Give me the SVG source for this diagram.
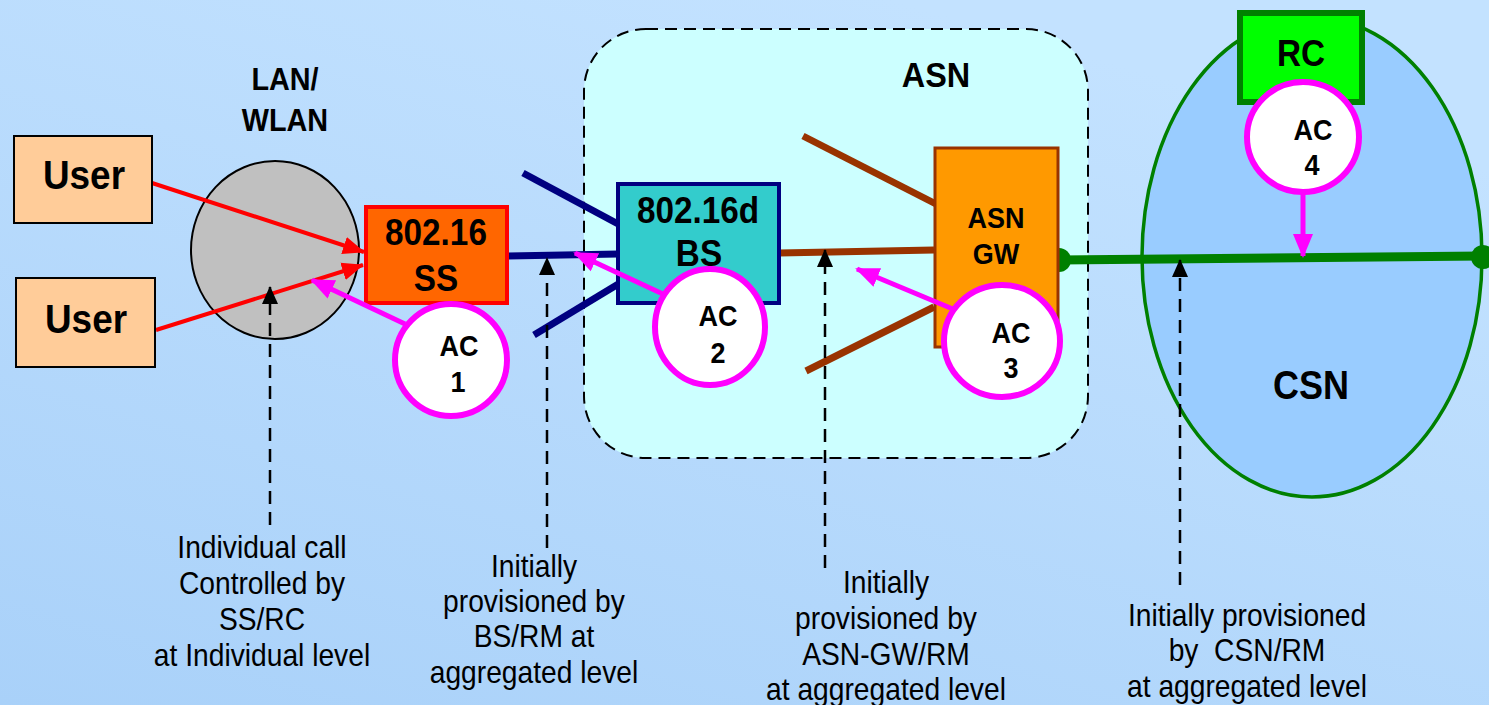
<svg xmlns="http://www.w3.org/2000/svg" width="1489" height="705" viewBox="0 0 1489 705">
<style>
.b{font-family:"Liberation Sans",Arial,sans-serif;font-weight:bold;fill:#000;text-anchor:middle}
.n{font-family:"Liberation Sans",Arial,sans-serif;font-size:31px;fill:#000;text-anchor:middle;white-space:pre}
.ac{fill:#fff;stroke:#ff00ff;stroke-width:6}
.mag{stroke:#ff00ff;stroke-width:5;fill:none;marker-end:url(#mh)}
.red{stroke:#ff0000;stroke-width:4;fill:none;marker-end:url(#rh)}
.dash{stroke:#000;stroke-width:2.5;stroke-dasharray:13 8;fill:none;marker-end:url(#kh)}
</style>
<defs>
<linearGradient id="bg" x1="0" y1="1" x2="0.6" y2="0">
<stop offset="0" stop-color="#a9d1f9"/>
<stop offset="1" stop-color="#c3e2ff"/>
</linearGradient>
<marker id="mh" markerUnits="userSpaceOnUse" markerWidth="24" markerHeight="24" viewBox="0 0 24 24" refX="22" refY="12" orient="auto"><path d="M0,2 L24,12 L0,22 Z" fill="#ff00ff"/></marker>
<marker id="rh" markerUnits="userSpaceOnUse" markerWidth="22" markerHeight="20" viewBox="0 0 22 20" refX="21" refY="10" orient="auto"><path d="M0,1 L22,10 L0,19 Z" fill="#ff0000"/></marker>
<marker id="kh" markerUnits="userSpaceOnUse" markerWidth="18" markerHeight="16" viewBox="0 0 18 16" refX="17" refY="8" orient="auto"><path d="M0,0 L18,8 L0,16 Z" fill="#000"/></marker>
</defs>
<rect width="1489" height="705" fill="url(#bg)"/>

<g id="asn">
<rect x="584" y="29" width="504" height="429" rx="62" fill="#ccffff" stroke="#000" stroke-width="2" stroke-dasharray="12 7"/>
<g transform="scale(0.9 1)"><text class="b" x="1040" y="87" font-size="36">ASN</text></g>
</g>
<g id="lan">
<ellipse cx="275" cy="250" rx="84" ry="89" fill="#c0c0c0" stroke="#000" stroke-width="2"/>
<g transform="scale(0.9 1)">
<text class="b" x="316.67" y="90" font-size="32">LAN/</text>
<text class="b" x="316.67" y="131" font-size="32">WLAN</text>
</g>
</g>
<g id="csn">
<ellipse cx="1312" cy="257" rx="170" ry="240" fill="#99ccff" stroke="#008000" stroke-width="3.5"/>
<g transform="scale(0.9 1)"><text class="b" x="1456.67" y="399" font-size="40">CSN</text></g>
</g>

<g id="connectors">
<line x1="508" y1="256" x2="618" y2="254" stroke="#000080" stroke-width="7"/>
<line x1="523" y1="173" x2="620" y2="225" stroke="#000080" stroke-width="7"/>
<line x1="534" y1="335" x2="620" y2="283" stroke="#000080" stroke-width="7"/>
<line x1="779" y1="253" x2="934" y2="250" stroke="#993300" stroke-width="7"/>
<line x1="803" y1="136" x2="936" y2="204" stroke="#993300" stroke-width="7"/>
<line x1="806" y1="371" x2="934" y2="307" stroke="#993300" stroke-width="7"/>
<line x1="1059" y1="260" x2="1483" y2="256" stroke="#008000" stroke-width="9"/>
<circle cx="1059" cy="260" r="12" fill="#008000"/>
<circle cx="1483" cy="257" r="12" fill="#008000"/>
<line class="red" x1="152" y1="183" x2="364" y2="252"/>
<line class="red" x1="156" y1="330" x2="363" y2="265"/>
<line class="dash" x1="270" y1="525" x2="270" y2="287"/>
<line class="dash" x1="547" y1="548" x2="547" y2="258"/>
<line class="dash" x1="825" y1="568" x2="825" y2="250"/>
<line class="dash" x1="1180" y1="585" x2="1180" y2="260"/>
</g>

<g id="user1">
<rect x="14" y="136" width="138" height="87" fill="#ffcc99" stroke="#000" stroke-width="2"/>
<g transform="scale(0.9 1)"><text class="b" x="93.33" y="189" font-size="41">User</text></g>
</g>
<g id="user2">
<rect x="16" y="278" width="139" height="89" fill="#ffcc99" stroke="#000" stroke-width="2"/>
<g transform="scale(0.9 1)"><text class="b" x="95.56" y="333" font-size="41">User</text></g>
</g>
<g id="ss">
<rect x="366" y="207" width="141" height="96" fill="#ff6600" stroke="#ff0000" stroke-width="4"/>
<g transform="scale(0.9 1)">
<text class="b" x="484.44" y="245" font-size="37">802.16</text>
<text class="b" x="484.44" y="291" font-size="37">SS</text>
</g>
</g>
<g id="bs">
<rect x="618" y="184" width="161" height="119" fill="#33cccc" stroke="#000080" stroke-width="4"/>
<g transform="scale(0.9 1)">
<text class="b" x="775.56" y="223" font-size="37">802.16d</text>
<text class="b" x="776.67" y="266" font-size="37">BS</text>
</g>
</g>
<g id="gw">
<rect x="935" y="148" width="123" height="199" fill="#ff9900" stroke="#993300" stroke-width="3"/>
<g transform="scale(0.9 1)">
<text class="b" x="1106.67" y="228" font-size="30">ASN</text>
<text class="b" x="1106.67" y="264" font-size="30">GW</text>
</g>
</g>
<g id="rc">
<rect x="1240" y="13" width="122" height="89" fill="#00ff00" stroke="#008000" stroke-width="6"/>
<g transform="scale(0.9 1)"><text class="b" x="1445.56" y="66" font-size="37">RC</text></g>
</g>

<g id="ac-arrows">
<line class="mag" x1="405" y1="324" x2="312" y2="280"/>
<line class="mag" x1="665" y1="295" x2="575" y2="253"/>
<line class="mag" x1="960" y1="312" x2="857" y2="269"/>
<line class="mag" x1="1303" y1="190" x2="1303" y2="256"/>
</g>
<g id="ac1">
<ellipse class="ac" cx="451" cy="360" rx="56" ry="56"/>
<g transform="scale(0.9 1)">
<text class="b" x="510" y="356" font-size="30">AC</text>
<text class="b" x="508.89" y="392" font-size="30">1</text>
</g>
</g>
<g id="ac2">
<ellipse class="ac" cx="710" cy="327" rx="55" ry="58"/>
<g transform="scale(0.9 1)">
<text class="b" x="797.78" y="326" font-size="30">AC</text>
<text class="b" x="797.78" y="363" font-size="30">2</text>
</g>
</g>
<g id="ac3">
<ellipse class="ac" cx="1002" cy="341" rx="58" ry="56"/>
<g transform="scale(0.9 1)">
<text class="b" x="1123.33" y="343" font-size="30">AC</text>
<text class="b" x="1123.33" y="378" font-size="30">3</text>
</g>
</g>
<g id="ac4">
<ellipse class="ac" cx="1303" cy="137" rx="56" ry="55"/>
<g transform="scale(0.9 1)">
<text class="b" x="1458.89" y="140" font-size="30">AC</text>
<text class="b" x="1457.78" y="175" font-size="30">4</text>
</g>
</g>

<g id="notes" transform="scale(0.91 1)">
<text class="n" x="287.91" y="558">Individual call</text>
<text class="n" x="287.91" y="594">Controlled by</text>
<text class="n" x="287.91" y="630">SS/RC</text>
<text class="n" x="287.91" y="666">at Individual level</text>
<text class="n" x="586.81" y="577">Initially</text>
<text class="n" x="586.81" y="612">provisioned by</text>
<text class="n" x="586.81" y="647">BS/RM at</text>
<text class="n" x="586.81" y="683">aggregated level</text>
<text class="n" x="973.63" y="593">Initially</text>
<text class="n" x="973.63" y="629">provisioned by</text>
<text class="n" x="973.63" y="665">ASN-GW/RM</text>
<text class="n" x="973.63" y="700">at aggregated level</text>
<text class="n" x="1370.33" y="626">Initially provisioned</text>
<text class="n" x="1370.33" y="661">by  CSN/RM</text>
<text class="n" x="1370.33" y="697">at aggregated level</text>
</g>
</svg>
